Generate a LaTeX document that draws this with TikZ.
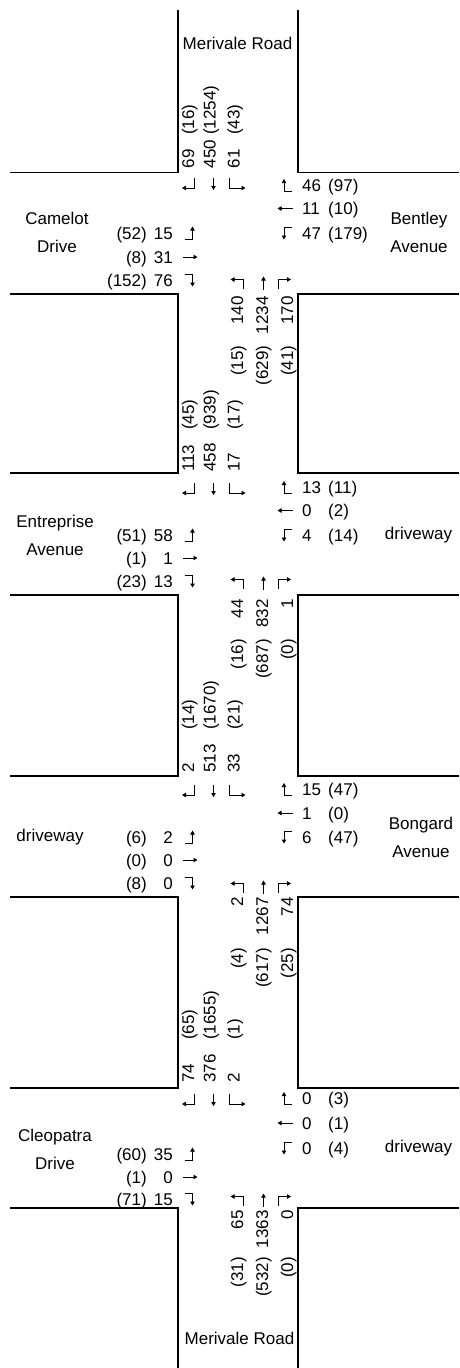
\documentclass[tikz,border=0pt]{standalone}
\usepackage{fontspec}
\setmainfont{Liberation Sans}
\usetikzlibrary{arrows.meta}
% ---- approach blocks ----
\newcommand{\SBblock}[9]{% id, vol start y, paren start y, vols, parens
  \node[num,rotate=90,anchor=west] (#1sv1) at (188,#2) {#4};
  \node[num,rotate=90,anchor=west] (#1sv2) at (209.5,#2) {#5};
  \node[num,rotate=90,anchor=west] (#1sv3) at (233.5,#2) {#6};
  \node[num,rotate=90,anchor=west] (#1sp1) at (188,#3) {#7};
  \node[num,rotate=90,anchor=west] (#1sp2) at (209.5,#3) {#8};
  \node[num,rotate=90,anchor=west] (#1sp3) at (233.5,#3) {#9};
}
\newcommand{\NBblock}[9]{% id, vol end y, paren end y, vols, parens
  \node[num,rotate=90,anchor=east] (#1nv1) at (237,#2) {#4};
  \node[num,rotate=90,anchor=east] (#1nv2) at (262,#2) {#5};
  \node[num,rotate=90,anchor=east] (#1nv3) at (287,#2) {#6};
  \node[num,rotate=90,anchor=east] (#1np1) at (237,#3) {#7};
  \node[num,rotate=90,anchor=east] (#1np2) at (262,#3) {#8};
  \node[num,rotate=90,anchor=east] (#1np3) at (287,#3) {#9};
}
\newcommand{\WBrow}[4]{% name, y, vol, paren
  \node[num,anchor=west] (#1v) at (302,#2) {#3};
  \node[num,anchor=west] (#1p) at (328,#2) {#4};
}
\newcommand{\EBrow}[4]{% name, y, vol, paren
  \node[num,anchor=east] (#1v) at (173,#2) {#3};
  \node[num,anchor=east] (#1p) at (147,#2) {#4};
}
\newcommand{\SBarrows}[1]{%
  \draw[mv] (194,#1-6) -- (194,#1+4.5) -- (182,#1+4.5);
  \draw[mv] (213.5,#1-6) -- (213.5,#1+6.5);
  \draw[mv] (229,#1-6) -- (229,#1+4.5) -- (245.5,#1+4.5);
}
\newcommand{\NBarrows}[1]{%
  \draw[mv] (243,#1+5.5) -- (243,#1-3.5) -- (230.5,#1-3.5);
  \draw[mv] (263.5,#1+6.5) -- (263.5,#1-6.5);
  \draw[mv] (278,#1+5.5) -- (278,#1-3.5) -- (291,#1-3.5);
}
\newcommand{\WBarrows}[3]{%
  \draw[mv] (291.5,#1+6) -- (284,#1+6) -- (284,#1-6.5);
  \draw[mv] (292.5,#2) -- (277.5,#2);
  \draw[mv] (291.5,#3-6) -- (284,#3-6) -- (284,#3+6.5);
}
\newcommand{\EBarrows}[3]{%
  \draw[mv] (184.5,#1+6) -- (192.5,#1+6) -- (192.5,#1-6.5);
  \draw[mv] (182.5,#2) -- (197.5,#2);
  \draw[mv] (184.5,#3-6) -- (192.5,#3-6) -- (192.5,#3+6.5);
}
\begin{document}
\begin{tikzpicture}[x=1pt,y=-1pt,
  road/.style={line width=1.8pt},
  mv/.style={line width=0.95pt,-{Triangle[length=4pt,width=4.4pt]}},
  num/.style={inner sep=0pt,text height=12.2pt,text depth=0pt,font=\fontsize{17}{20}\selectfont},
  lbl/.style={inner sep=0pt,align=center,font=\fontsize{17}{28}\selectfont}]
\useasboundingbox (0,0) rectangle (459,1368);

% ---- road edges ----
\draw[road] (10,172.5) -- (178,172.5) -- (178,10);
\draw[road] (459,172.5) -- (298,172.5) -- (298,10);
\draw[road] (10,294) -- (178,294) -- (178,473) -- (10,473);
\draw[road] (459,294) -- (298,294) -- (298,473) -- (459,473);
\draw[road] (10,595) -- (178,595) -- (178,776) -- (10,776);
\draw[road] (459,595) -- (298,595) -- (298,776) -- (459,776);
\draw[road] (10,897) -- (178,897) -- (178,1088) -- (10,1088);
\draw[road] (459,897) -- (298,897) -- (298,1088) -- (459,1088);
\draw[road] (10,1208) -- (178,1208) -- (178,1368);
\draw[road] (459,1208) -- (298,1208) -- (298,1368);

% ---- street names ----
\node[lbl] (merN) at (237.5,43.5) {Merivale Road};
\node[lbl] (merS) at (239.5,1338.5) {Merivale Road};
\node[lbl] (camelot) at (57,232) {Camelot\\Drive};
\node[lbl] (bentley) at (419,232.5) {Bentley\\Avenue};
\node[lbl] (entreprise) at (55,535) {Entreprise\\Avenue};
\node[lbl] (drw2) at (418.5,535) {driveway};
\node[lbl] (drw3) at (50,837) {driveway};
\node[lbl] (bongard) at (421,837) {Bongard\\Avenue};
\node[lbl] (cleopatra) at (55,1149.5) {Cleopatra\\Drive};
\node[lbl] (drw4) at (418.5,1148) {driveway};

% ---- intersection 1 ----
\SBblock{a}{168.3}{135}{69}{450}{61}{(16)}{(1254)}{(43)}
\SBarrows{183.5}
\WBrow{aw1}{185.5}{46}{(97)}
\WBrow{aw2}{208.5}{11}{(10)}
\WBrow{aw3}{233}{47}{(179)}
\WBarrows{185.5}{208.5}{233}
\EBrow{ae1}{233}{15}{(52)}
\EBrow{ae2}{257}{31}{(8)}
\EBrow{ae3}{280}{76}{(152)}
\EBarrows{233}{257}{280}
\NBarrows{283}
\NBblock{a}{296}{345.5}{140}{1234}{170}{(15)}{(629)}{(41)}

% ---- intersection 2 ----
\SBblock{b}{472}{430}{113}{458}{17}{(45)}{(939)}{(17)}
\SBarrows{488.5}
\WBrow{bw1}{487.5}{13}{(11)}
\WBrow{bw2}{510.5}{0}{(2)}
\WBrow{bw3}{535}{4}{(14)}
\WBarrows{487.5}{510.5}{535}
\EBrow{be1}{535}{58}{(51)}
\EBrow{be2}{558}{1}{(1)}
\EBrow{be3}{581}{13}{(23)}
\EBarrows{535}{558}{581}
\NBarrows{583}
\NBblock{b}{599}{639}{44}{832}{1}{(16)}{(687)}{(0)}

% ---- intersection 3 ----
\SBblock{c}{773}{730}{2}{513}{33}{(14)}{(1670)}{(21)}
\SBarrows{790.5}
\WBrow{cw1}{789.5}{15}{(47)}
\WBrow{cw2}{813}{1}{(0)}
\WBrow{cw3}{837}{6}{(47)}
\WBarrows{789.5}{813}{837}
\EBrow{ce1}{837}{2}{(6)}
\EBrow{ce2}{860}{0}{(0)}
\EBrow{ce3}{883}{0}{(8)}
\EBarrows{837}{860}{883}
\NBarrows{887}
\NBblock{c}{897}{948}{2}{1267}{74}{(4)}{(617)}{(25)}

% ---- intersection 4 ----
\SBblock{d}{1083}{1040}{74}{376}{2}{(65)}{(1655)}{(1)}
\SBarrows{1099.5}
\WBrow{dw1}{1098.5}{0}{(3)}
\WBrow{dw2}{1123}{0}{(1)}
\WBrow{dw3}{1148}{0}{(4)}
\WBarrows{1098.5}{1123}{1148}
\EBrow{de1}{1154}{35}{(60)}
\EBrow{de2}{1177}{0}{(1)}
\EBrow{de3}{1199}{15}{(71)}
\EBarrows{1154}{1177}{1199}
\NBarrows{1200}
\NBblock{d}{1210}{1257}{65}{1363}{0}{(31)}{(532)}{(0)}
\end{tikzpicture}
\end{document}
